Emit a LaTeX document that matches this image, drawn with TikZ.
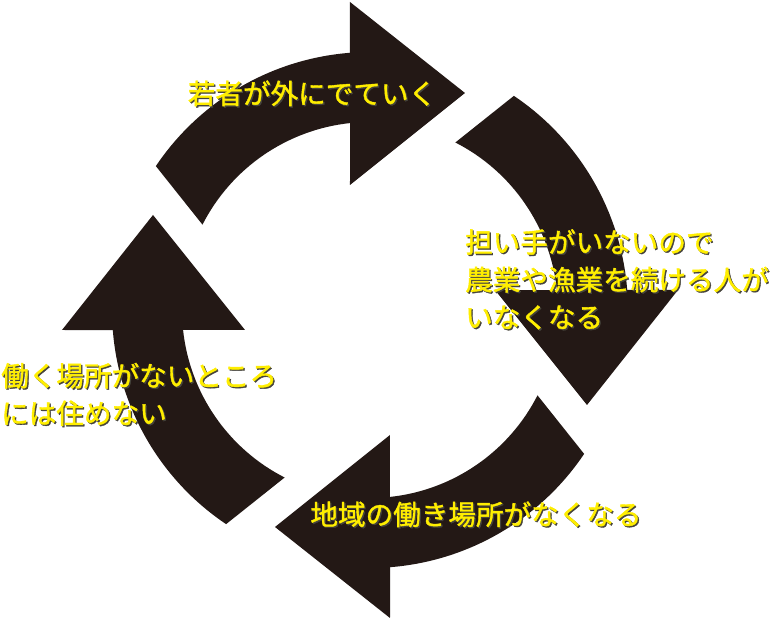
\documentclass[tikz,border=0pt]{standalone}
\usepackage{fontspec}
\newfontfamily\jpfont[AutoFakeBold=1.4]{Noto Sans CJK JP}
\definecolor{arrowblk}{RGB}{35,24,21}
\definecolor{txtyellow}{RGB}{255,238,0}
\definecolor{txtshadow}{RGB}{70,68,60}
\newcommand\shadowed[1]{\rlap{\kern1.3pt\raisebox{-1.3pt}{\textcolor{txtshadow}{#1}}}#1}
\begin{document}
\begin{tikzpicture}[x=1pt,y=1pt,
  cyclearrow/.style={fill=arrowblk},
  cyclelabel/.style={inner sep=0pt, text=txtyellow, font=\jpfont\bfseries\fontsize{27.6}{37.5}\selectfont, align=left}]
\useasboundingbox (-370,-310) rectangle (410,310);
\foreach \k in {0,1,2,3}{
  \fill[cyclearrow, rotate=-90*\k] (146.1:258) arc[start angle=146.1,end angle=94.47,radius=258]
    -- (-20,308) -- (95,217) -- (-20,125) -- (96.1:188)
    arc[start angle=96.1,end angle=153,radius=188] -- cycle;
}
\node[cyclelabel, anchor=center] (t1) at (-58,216) {\shadowed{若者が外にでていく}};
\node[cyclelabel, anchor=west] (t2) at (95,30) {\shadowed{担い手がいないので}\\\shadowed{農業や漁業を続ける人が}\\\shadowed{いなくなる}};
\node[cyclelabel, anchor=west] (t3) at (-369,-85) {\shadowed{働く場所がないところ}\\\shadowed{には住めない}};
\node[cyclelabel, anchor=center] (t4) at (106,-205) {\shadowed{地域の働き場所がなくなる}};
\end{tikzpicture}
\end{document}
